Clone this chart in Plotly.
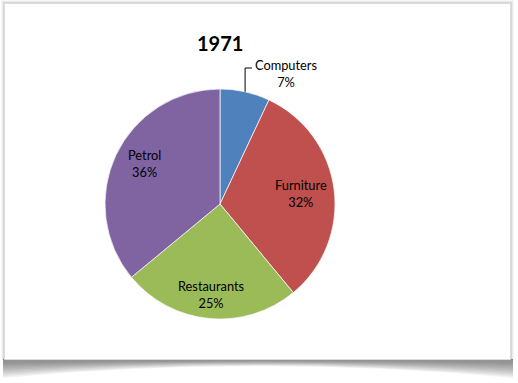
import math
import plotly.graph_objects as go

title = "1971"
categories = ["Computers", "Furniture", "Restaurants", "Petrol"]
values = [7, 32, 25, 36]
colors = ["#4F81BD", "#C0504D", "#9BBB59", "#8064A2"]

W, H = 518, 383
cx, cy, R = 220, 204, 115

fig = go.Figure()

fig.update_layout(
    xaxis=dict(range=[0, W], visible=False, domain=[0, 1], fixedrange=True),
    yaxis=dict(range=[H, 0], visible=False, domain=[0, 1], fixedrange=True),
)

shapes = []
# bottom curved shadow (layered)
for i in range(10):
    de = 19 - i * 1.6
    dc = 7 - i * 0.55
    shapes.append(dict(
        type="path", xref="x", yref="y",
        path=f"M 3,359 L 513,359 L 513,{359+de:.1f} Q 258,{359+dc*2-de:.1f} 3,{359+de:.1f} Z",
        fillcolor="rgba(0,0,0,0.05)", line=dict(width=0), layer="below"))
# soft side shadows
for i, a in enumerate([0.03, 0.05, 0.08]):
    o = 3 - i
    shapes.append(dict(type="rect", xref="x", yref="y",
                       x0=4 - o, y0=3 - o, x1=511 + o, y1=360,
                       fillcolor=f"rgba(0,0,0,{a})", line=dict(width=0), layer="below"))
# card
shapes.append(dict(type="rect", xref="x", yref="y", x0=4.5, y0=3.5, x1=510.5, y1=359.5,
                   fillcolor="white", line=dict(color="#dcdcdc", width=1), layer="below"))

# leader line for Computers
total = sum(values)
mid0 = (values[0] / 2) / total * 2 * math.pi
ex = cx + R * math.sin(mid0)
ey = cy - R * math.cos(mid0)
shapes.append(dict(type="path", xref="x", yref="y",
                   path=f"M {ex:.1f},{ey:.1f} L {ex:.1f},68 L 252,68",
                   line=dict(color="black", width=1)))

fig.add_trace(go.Pie(
    labels=categories, values=values, sort=False, direction="clockwise", rotation=0,
    marker=dict(colors=colors, line=dict(color="white", width=0.7)),
    textinfo="none", hoverinfo="label+percent", showlegend=False,
    domain=dict(x=[(cx - R) / W, (cx + R) / W], y=[1 - (cy + R) / H, 1 - (cy - R) / H]),
))

annotations = []
font = dict(family="Lato, Noto Sans, sans-serif", size=12.8, color="black")
cum = 0
fracs = [None, 0.71, 0.79, 0.75]
for i, (c, v) in enumerate(zip(categories, values)):
    mid = (cum + v / 2) / total * 2 * math.pi
    cum += v
    pct = f"{round(v / total * 100)}%"
    if i == 0:
        x, y = 286, 74
    else:
        x = cx + R * fracs[i] * math.sin(mid)
        y = cy - R * fracs[i] * math.cos(mid)
        if i == 3:
            x, y = 144, 163
    annotations.append(dict(x=x / W, y=1 - y / H, xref="paper", yref="paper",
                            text=f"{c}<br>{pct}", showarrow=False, font=font,
                            align="center", xanchor="center", yanchor="middle"))

annotations.append(dict(x=220 / W, y=1 - 43 / H, xref="paper", yref="paper",
                        text=f"<b>{title}</b>", showarrow=False,
                        font=dict(family="Lato, Noto Sans, sans-serif", size=20, color="black"),
                        xanchor="center", yanchor="middle"))

fig.update_layout(width=W, height=H, margin=dict(l=0, r=0, t=0, b=0),
                  paper_bgcolor="white", plot_bgcolor="rgba(0,0,0,0)",
                  shapes=shapes, annotations=annotations)

fig.write_html("out.html", config={"displayModeBar": False})
